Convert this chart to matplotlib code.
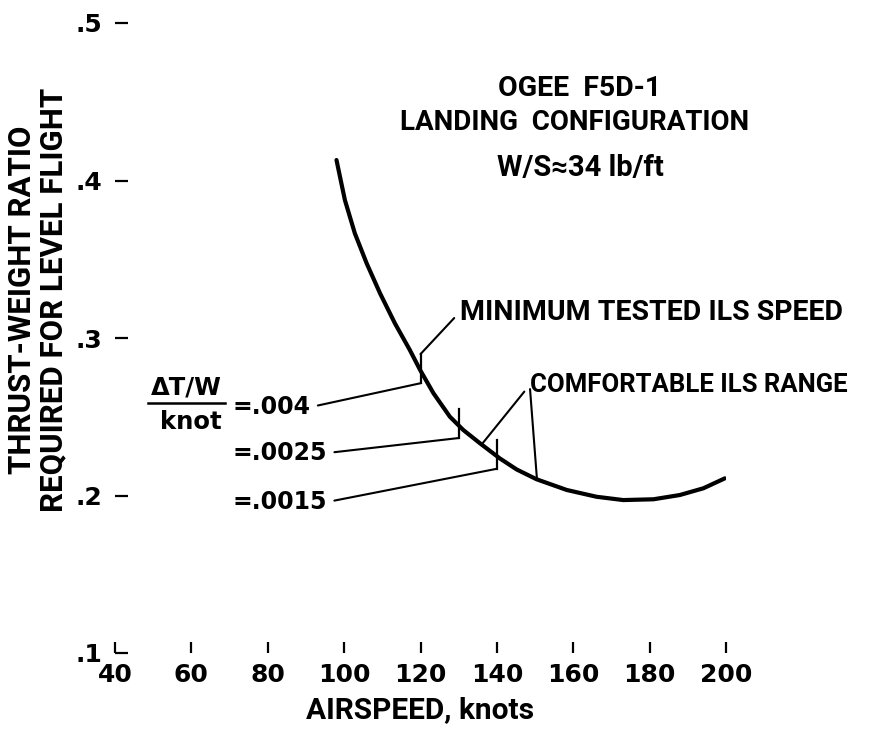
import numpy as np
import matplotlib
matplotlib.use("Agg")
import matplotlib.pyplot as plt

# thrust-weight ratio curve
airspeed = [98, 100.2, 102.8, 105.9, 109.4, 113.3, 117.2, 119.9, 123.4, 127.7, 131.2,
            135.6, 140.8, 145.2, 150.4, 158.3, 166.1, 173.1, 181.0, 187.9, 194.1, 199.7]
tw_ratio = [0.413, 0.3876, 0.3665, 0.3474, 0.3284, 0.3093, 0.2924, 0.2797, 0.2649, 0.2500,
            0.2416, 0.2331, 0.2235, 0.2165, 0.2103, 0.2035, 0.1992, 0.1971, 0.1976, 0.2003,
            0.2046, 0.2109]

x_ticks = [40, 60, 80, 100, 120, 140, 160, 180, 200]
y_ticks = [0.1, 0.2, 0.3, 0.4, 0.5]
y_tick_labels = [".1", ".2", ".3", ".4", ".5"]

# marked speeds with the dT/W per knot slope
mark_speeds = [120, 130, 140]
mark_labels = ["=.004", "=.0025", "=.0015"]
mark_label_y = [0.2562, 0.227, 0.1959]
ils_range = [136, 150.5]
min_ils_speed = 120

plt.rcParams['font.family'] = ['Roboto', 'DejaVu Sans']
plt.rcParams['font.weight'] = 'bold'
num_font = 'DejaVu Sans'

fig = plt.figure(figsize=(8.83, 7.33), dpi=100)
ax = fig.add_axes([115/883, 80/733, 611/883, 630/733])
ax.set_xlim(40, 200)
ax.set_ylim(0.1, 0.5)
for s in ax.spines.values():
    s.set_visible(False)

ax.plot(airspeed, tw_ratio, color='black', lw=3, solid_capstyle='round',
        solid_joinstyle='round')

ax.set_xticks(x_ticks)
ax.set_xticklabels([str(v) for v in x_ticks], fontfamily=num_font, fontsize=18)
ax.set_yticks(y_ticks)
ax.set_yticklabels(y_tick_labels, fontfamily=num_font, fontsize=18)
ax.tick_params(axis='x', direction='in', length=8, width=1.6, pad=7)
ax.tick_params(axis='y', direction='in', length=9, width=1.6, pad=9)

ax.set_xlabel("AIRSPEED, knots", fontsize=21.5, fontweight='bold')
ax.xaxis.set_label_coords(0.5, -0.068)
ax.text(-0.152, 0.56, "THRUST-WEIGHT RATIO", transform=ax.transAxes, rotation=90,
        ha='center', va='center', fontsize=22.5)
ax.text(-0.1015, 0.56, "REQUIRED FOR LEVEL FLIGHT", transform=ax.transAxes, rotation=90,
        ha='center', va='center', fontsize=22.5)

ax.text(161.8, 0.4587, "OGEE  F5D-1", ha='center', va='center', fontsize=20.5)
ax.text(160.4, 0.4371, "LANDING  CONFIGURATION", ha='center', va='center', fontsize=20)
ax.text(161.8, 0.408, "W/S\u224834 lb/ft", ha='center', va='center', fontsize=21)

# ticks across the curve at the marked speeds
tick_lo, tick_hi = 0.008, 0.0105
ends = []
for sp in mark_speeds:
    yc = np.interp(sp, airspeed, tw_ratio)
    ax.plot([sp, sp], [yc - tick_lo, yc + tick_hi], color='black', lw=1.6)
    ends.append((sp, yc - tick_lo, yc + tick_hi))

line_kw = dict(arrowstyle='-', color='black', lw=1.5, shrinkA=3, shrinkB=0)
for (sp, lo, hi), lab, ly in zip(ends, mark_labels, mark_label_y):
    ax.annotate(lab, xy=(sp, lo), xytext=(70.9, ly), ha='left', va='center',
                fontsize=17, fontfamily=num_font,
                arrowprops=dict(relpos=(1, 0.5), **line_kw))

top = ends[mark_speeds.index(min_ils_speed)][2]
ax.annotate("MINIMUM TESTED ILS SPEED", xy=(min_ils_speed, top), xytext=(130.3, 0.3165),
            ha='left', va='center', fontsize=20.5,
            arrowprops=dict(relpos=(0, 0.5), **line_kw))

for sp in ils_range:
    ax.annotate("COMFORTABLE ILS RANGE" if sp == ils_range[0] else "",
                xy=(sp, np.interp(sp, airspeed, tw_ratio)), xytext=(148.6, 0.2702),
                ha='left', va='center', fontsize=18.5,
                arrowprops=dict(relpos=(0, 0.5), **line_kw))

# delta T/W per knot fraction
ax.text(58.8, 0.2683, "\u0394T/W", ha='center', va='center', fontsize=17.5,
        fontfamily=num_font)
ax.plot([48.6, 68.8], [0.2587, 0.2587], color='black', lw=1.8, clip_on=False)
ax.text(59.9, 0.2467, "knot", ha='center', va='center', fontsize=17.5,
        fontfamily=num_font)

fig.savefig("out.png", dpi=100)
